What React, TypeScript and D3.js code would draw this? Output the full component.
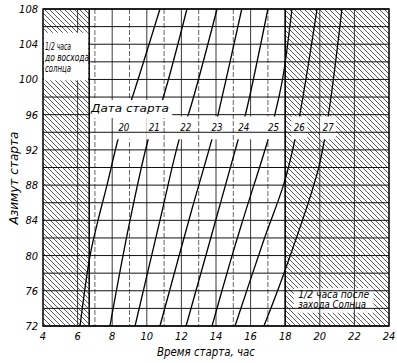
import { useEffect, useRef } from 'react'
import * as d3 from 'd3'

// launch dates (day of month), one curve each
const dates = ['20', '21', '22', '23', '24', '25', '26', '27']

// azimuth (deg) and launch time (h)
const az20 = [72, 80, 84, 88, 94, 97, 108]
const t20 = [6.14, 6.72, 7.18, 7.7, 8.45, 9.0, 10.76]
const az21 = [72, 84, 94, 97, 108]
const t21 = [7.87, 9.03, 10.2, 10.8, 12.32]
const az22 = [72, 84, 93.5, 96, 108]
const t22 = [9.32, 10.76, 11.92, 12.4, 14.06]
const az23 = [72, 85.2, 93.1, 96, 108]
const t23 = [10.76, 12.6, 13.75, 14.12, 15.49]
const az24 = [72, 83.7, 93.1, 96, 108]
const t24 = [12.27, 13.94, 15.27, 15.7, 17.0]
const az25 = [72, 79.2, 83.7, 93.1, 96, 100.3, 108]
const t25 = [13.77, 14.81, 15.5, 17.0, 17.4, 17.87, 18.39]
const az26 = [72, 81.8, 88.2, 94, 108]
const t26 = [15.1, 16.77, 17.93, 18.65, 19.84]
const az27 = [72, 78, 89.7, 96, 108]
const t27 = [16.77, 17.93, 19.9, 20.5, 21.28]

const timeTicks = [4, 6, 8, 10, 12, 14, 16, 18, 20, 22, 24]
const azTicks = [72, 76, 80, 84, 88, 92, 96, 100, 104, 108]

const sunrise = 6.67 // 1/2 h before sunrise
const sunset = 18 // 1/2 h after sunset
const labelAz = 94.6

const FONT = "'Liberation Sans Narrow', 'DejaVu Sans Condensed', 'Liberation Sans', sans-serif"

export default function App() {
    const svgRef = useRef<SVGSVGElement>(null)

    useEffect(() => {
        if (!svgRef.current) return
        const svg = d3.select(svgRef.current)
        const width = 397
        const height = 363
        svg.attr('width', width).attr('height', height)
        svg.selectAll('*').remove()

        const x = d3.scaleLinear().domain([4, 24]).range([43, 389])
        const y = d3.scaleLinear().domain([72, 108]).range([326, 9])

        const curves = [
            { date: dates[0], az: az20, t: t20 },
            { date: dates[1], az: az21, t: t21 },
            { date: dates[2], az: az22, t: t22 },
            { date: dates[3], az: az23, t: t23 },
            { date: dates[4], az: az24, t: t24 },
            { date: dates[5], az: az25, t: t25 },
            { date: dates[6], az: az26, t: t26 },
            { date: dates[7], az: az27, t: t27 },
        ]

        const txt = (s: string, px: number, py: number, size: number, len?: number, anchor = 'start') => {
            const t = svg.append('text')
                .attr('x', px).attr('y', py)
                .attr('text-anchor', anchor)
                .attr('font-family', FONT).attr('font-style', 'italic')
                .attr('font-size', size + 'px').attr('fill', '#000')
                .text(s)
            if (len) t.attr('textLength', len).attr('lengthAdjust', 'spacingAndGlyphs')
            return t
        }

        const defs = svg.append('defs')
        const pat = defs.append('pattern')
            .attr('id', 'hatch')
            .attr('patternUnits', 'userSpaceOnUse')
            .attr('width', 5)
            .attr('height', 5)
        pat.append('path')
            .attr('d', 'M-1,-1 L6,6 M-1,4 L1,6 M4,-1 L6,1')
            .attr('stroke', '#111')
            .attr('stroke-width', 0.7)

        svg.append('rect').attr('width', width).attr('height', height).attr('fill', '#fff')

        // hatched zones (night)
        svg.append('rect')
            .attr('x', x(4)).attr('y', y(108))
            .attr('width', x(sunrise) - x(4)).attr('height', y(72) - y(108))
            .attr('fill', 'url(#hatch)')
        svg.append('rect')
            .attr('x', x(sunset)).attr('y', y(108))
            .attr('width', x(24) - x(sunset)).attr('height', y(72) - y(108))
            .attr('fill', 'url(#hatch)')
        // clear area for the evening note
        svg.append('rect')
            .attr('x', x(18.5)).attr('y', y(76.3))
            .attr('width', x(23.1) - x(18.5)).attr('height', y(73.5) - y(76.3))
            .attr('fill', '#fff')

        // vertical grid
        d3.range(5, 24).forEach(h => {
            const inNight = h < sunrise || h > sunset
            if (inNight && h % 2 === 1) return
            svg.append('line')
                .attr('x1', x(h)).attr('x2', x(h))
                .attr('y1', y(108)).attr('y2', y(72))
                .attr('stroke', '#222')
                .attr('stroke-width', h % 2 === 0 ? 0.9 : 0.7)
                .attr('stroke-dasharray', h % 2 === 0 ? null : '5,2')
        })

        // date curves
        const line = d3.line<[number, number]>()
            .x(d => x(d[1]))
            .y(d => y(d[0]))
            .curve(d3.curveCatmullRom.alpha(0.5))
        curves.forEach(c => {
            const pts = c.az.map((a, i) => [a, c.t[i]] as [number, number])
            svg.append('path')
                .attr('d', line(pts))
                .attr('fill', 'none')
                .attr('stroke', '#000')
                .attr('stroke-width', 1.3)
        })

        // white gaps for the date labels
        const labelX = (c: { az: number[]; t: number[] }) => {
            const i = d3.bisectLeft(c.az, labelAz)
            const a0 = c.az[i - 1], a1 = c.az[i]
            const t = c.t[i - 1] + (c.t[i] - c.t[i - 1]) * (labelAz - a0) / (a1 - a0)
            return x(t) + 2
        }
        curves.forEach(c => {
            svg.append('rect')
                .attr('x', labelX(c) - 8).attr('y', y(95.8))
                .attr('width', 16).attr('height', y(93.2) - y(95.8))
                .attr('fill', '#fff')
        })

        // horizontal grid
        d3.range(72, 109, 2).forEach(a => {
            svg.append('line')
                .attr('x1', x(4)).attr('x2', x(24))
                .attr('y1', y(a)).attr('y2', y(a))
                .attr('stroke', '#111')
                .attr('stroke-width', 1)
        })

        // "Дата старта" caption
        svg.append('rect')
            .attr('x', x(sunrise) + 1).attr('y', 100)
            .attr('width', 82).attr('height', 18)
            .attr('fill', '#fff')
        txt('Дата старта', 91, 112, 11, 78)

        curves.forEach(c => {
            txt(c.date, labelX(c), y(labelAz) + 4, 11, 11, 'middle')
        })

        // morning note
        svg.append('rect')
            .attr('x', x(4) + 1).attr('y', y(105.3))
            .attr('width', x(sunrise) - x(4) - 2).attr('height', y(99.9) - y(105.3))
            .attr('fill', '#fff')
        const morning = ['1/2 часа', 'до восхода', 'солнца']
        const morningLen = [26, 44, 26]
        morning.forEach((s, i) => {
            txt(s, x(4) + 2, y(105.3) + 17 + i * 11, 10, morningLen[i])
        })

        // evening note
        const evening = ['1/2 часа после', 'захода Солнца']
        const eveningLen = [71, 68]
        evening.forEach((s, i) => {
            txt(s, x(18.75), y(76.3) + 10 + i * 10, 10, eveningLen[i])
        })

        // frame and zone borders
        svg.append('rect')
            .attr('x', x(4)).attr('y', y(108))
            .attr('width', x(24) - x(4)).attr('height', y(72) - y(108))
            .attr('fill', 'none').attr('stroke', '#000').attr('stroke-width', 1.5)
        ;[sunrise, sunset].forEach(h => {
            svg.append('line')
                .attr('x1', x(h)).attr('x2', x(h))
                .attr('y1', y(108)).attr('y2', y(72))
                .attr('stroke', '#000').attr('stroke-width', 1.5)
        })

        // tick labels
        svg.selectAll('.xt')
            .data(timeTicks)
            .enter()
            .append('text')
            .attr('class', 'xt')
            .attr('x', d => x(d))
            .attr('y', 340)
            .attr('text-anchor', 'middle')
            .attr('font-family', FONT).attr('font-style', 'italic')
            .attr('font-size', '11px').attr('fill', '#000')
            .text(d => d)
        svg.selectAll('.yt')
            .data(azTicks)
            .enter()
            .append('text')
            .attr('class', 'yt')
            .attr('x', 38)
            .attr('y', d => y(d) + 4)
            .attr('text-anchor', 'end')
            .attr('font-family', FONT).attr('font-style', 'italic')
            .attr('font-size', '11px').attr('fill', '#000')
            .text(d => d)

        // axis titles
        txt('Время старта, час', 157, 356, 12, 98)
        txt('Азимут старта', 0, 0, 12, 93, 'middle')
            .attr('x', null).attr('y', null)
            .attr('transform', 'translate(18,178) rotate(-90)')
    }, [])

    return <svg ref={svgRef} style={{ position: 'absolute', left: 0, top: 0 }} />
}
